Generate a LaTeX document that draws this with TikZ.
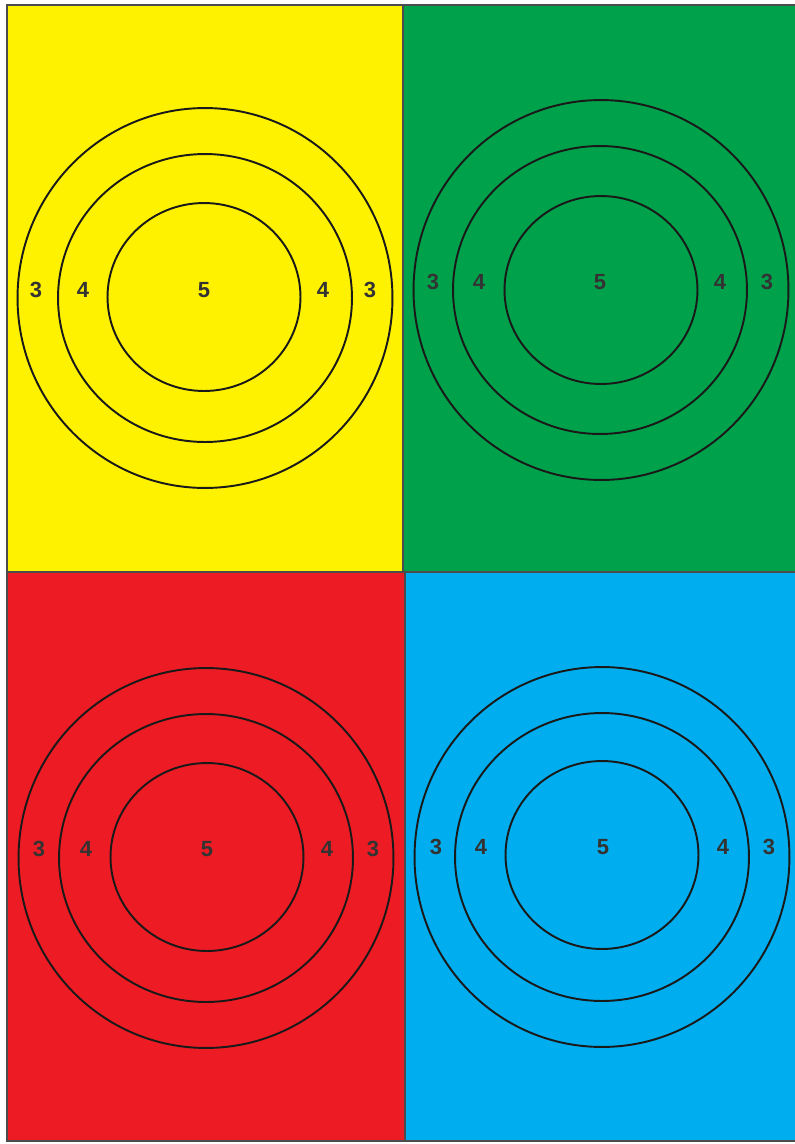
\documentclass[tikz,border=0pt]{standalone}
\usepackage{fontspec}
\setmainfont{Liberation Sans}
\definecolor{tgtyellow}{HTML}{FFF200}
\definecolor{tgtgreen}{HTML}{00A14B}
\definecolor{tgtred}{HTML}{ED1C24}
\definecolor{tgtblue}{HTML}{00AEEF}

\begin{document}
\begin{tikzpicture}[
    x=0.02cm,y=-0.02cm,
    panel/.style={draw=black!70,line width=0.9pt},
    outerring/.style={draw=black!90,line width=1.1pt,x radius=3.75cm,y radius=3.8cm},
    midring/.style={draw=black!90,line width=1.1pt,x radius=2.94cm,y radius=2.88cm},
    innerring/.style={draw=black!90,line width=1.1pt,x radius=1.93cm,y radius=1.88cm},
    score/.style={font=\bfseries\fontsize{12.5}{14}\selectfont,text=black!80,inner sep=0pt,anchor=base}
]
    \useasboundingbox (0,0) rectangle (795,1144);

    % panels
    \fill[white] (0,0) rectangle (795,1144);
    \filldraw[panel,fill=tgtyellow] (7,5) rectangle (403,572);
    \filldraw[panel,fill=tgtgreen] (403,5) rectangle (797,572);
    \filldraw[panel,fill=tgtred] (7,572) rectangle (405,1141);
    \filldraw[panel,fill=tgtblue] (405,572) rectangle (797,1141);

    % yellow target
    \draw[outerring] (205,298) ellipse [];
    \draw[midring] (205,298) ellipse [];
    \draw[innerring] (204,297) ellipse [];
    \node[score] (y3l) at (36,297) {3};
    \node[score] (y4l) at (83,297) {4};
    \node[score] (y5) at (204,297) {5};
    \node[score] (y4r) at (323,297) {4};
    \node[score] (y3r) at (370,297) {3};

    % green target
    \draw[outerring] (601,290) ellipse [];
    \draw[midring] (600,290) ellipse [];
    \draw[innerring] (601,290) ellipse [];
    \node[score] (g3l) at (433,289) {3};
    \node[score] (g4l) at (479,289) {4};
    \node[score] (g5) at (600,289) {5};
    \node[score] (g4r) at (720,289) {4};
    \node[score] (g3r) at (767,289) {3};

    % red target
    \draw[outerring] (206,858) ellipse [];
    \draw[midring] (206,858) ellipse [];
    \draw[innerring] (207,857) ellipse [];
    \node[score] (r3l) at (39,856) {3};
    \node[score] (r4l) at (86,856) {4};
    \node[score] (r5) at (207,856) {5};
    \node[score] (r4r) at (327,856) {4};
    \node[score] (r3r) at (373,856) {3};

    % blue target
    \draw[outerring] (602,857) ellipse [];
    \draw[midring] (602,857) ellipse [];
    \draw[innerring] (602,855) ellipse [];
    \node[score] (b3l) at (436,854) {3};
    \node[score] (b4l) at (481,854) {4};
    \node[score] (b5) at (603,854) {5};
    \node[score] (b4r) at (723,854) {4};
    \node[score] (b3r) at (769,854) {3};
\end{tikzpicture}
\end{document}
